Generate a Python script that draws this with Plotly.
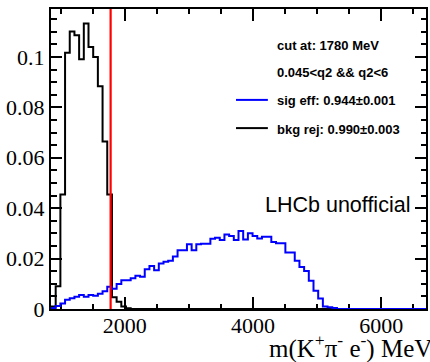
import numpy as np
import plotly.graph_objects as go

# Binning of the mass histograms (MeV)
x_range = [850, 6700]
n_bins = 80
cut_mev = 1780
y_max = 0.119

# Normalised background distribution per bin (black)
bkg_values = [
    0.0010, 0.0090, 0.0454, 0.1016, 0.1101, 0.1086, 0.0991, 0.1132,
    0.1039, 0.1000, 0.0884, 0.0664, 0.0454, 0.0047, 0.0029, 0.0010,
    0.0003,
] + [0.0] * 63

# Normalised signal distribution per bin (blue)
sig_values = [
    0.0004, 0.0012, 0.0022, 0.0037, 0.0043, 0.0049, 0.0056, 0.0049,
    0.0056, 0.0053, 0.0060, 0.0070, 0.0088, 0.0080, 0.0099, 0.0114,
    0.0114, 0.0122, 0.0132, 0.0128, 0.0158, 0.0171, 0.0154, 0.0180,
    0.0187, 0.0191, 0.0208, 0.0233, 0.0233, 0.0257, 0.0233, 0.0257,
    0.0259, 0.0259, 0.0279, 0.0283, 0.0274, 0.0296, 0.0290, 0.0274,
    0.0309, 0.0276, 0.0300, 0.0290, 0.0280, 0.0287, 0.0287, 0.0266,
    0.0261, 0.0261, 0.0224, 0.0224, 0.0191, 0.0167, 0.0151, 0.0112,
    0.0072, 0.0042, 0.0010, 0.0007, 0.0004,
] + [0.0] * 19

x_tick_vals = [2000, 4000, 6000]
x_tick_text = ["2000", "4000", "6000"]
y_tick_vals = [0, 0.02, 0.04, 0.06, 0.08, 0.1]
y_tick_text = ["0", "0.02", "0.04", "0.06", "0.08", "0.1"]

info_lines = ["cut at: 1780 MeV", "0.045<q2 && q2<6"]
legend_entries = [
    ("sig eff: 0.944\u00b10.001", "#0000ff"),
    ("bkg rej: 0.990\u00b10.003", "#000000"),
]

edges = np.linspace(x_range[0], x_range[1], n_bins + 1)


def step_xy(values):
    return edges, list(values) + [values[-1]]


fig = go.Figure()
for vals, color in [(bkg_values, "#000000"), (sig_values, "#0000ff")]:
    xs, ys = step_xy(vals)
    fig.add_trace(go.Scatter(x=xs, y=ys, mode="lines", line_shape="hv",
                             line=dict(color=color, width=2),
                             showlegend=False, hoverinfo="skip"))

# cut position
fig.add_shape(type="line", x0=cut_mev, x1=cut_mev, xref="x",
              y0=0, y1=1, yref="paper",
              line=dict(color="#ff0000", width=2.2))

serif = "Liberation Serif, Times New Roman, serif"
sans = "Liberation Sans, Arial, sans-serif"

axis_common = dict(
    showgrid=False, zeroline=False, showline=True, linecolor="black",
    linewidth=2, mirror="ticks", ticks="inside", tickcolor="black",
    tickwidth=1.5, layer="below traces",
    tickfont=dict(family=serif, size=22, color="black"),
)

fig.update_xaxes(range=x_range, tickvals=x_tick_vals, ticktext=x_tick_text,
                 ticklen=12, ticklabelstandoff=-4,
                 minor=dict(dtick=500, tick0=0, ticklen=5, ticks="inside",
                            tickcolor="black", tickwidth=1.5),
                 **axis_common)
fig.update_yaxes(range=[0, y_max], tickvals=y_tick_vals, ticktext=y_tick_text,
                 ticklen=11, ticklabelstandoff=0,
                 minor=dict(dtick=0.005, tick0=0, ticklen=5.5, ticks="inside",
                            tickcolor="black", tickwidth=1.5),
                 **axis_common)

annotations = []
text_x = 0.598
row_y = [0.880, 0.787, 0.694, 0.600]
for i, txt in enumerate(info_lines):
    annotations.append(dict(x=text_x, y=row_y[i], xref="paper", yref="paper",
                            text="<b>%s</b>" % txt, showarrow=False,
                            xanchor="left", yanchor="middle",
                            font=dict(family=sans, size=13, color="black")))
for j, (txt, color) in enumerate(legend_entries):
    yy = row_y[2 + j]
    annotations.append(dict(x=text_x, y=yy, xref="paper", yref="paper",
                            text="<b>%s</b>" % txt, showarrow=False,
                            xanchor="left", yanchor="middle",
                            font=dict(family=sans, size=13, color="black")))
    fig.add_shape(type="line", xref="paper", yref="paper",
                  x0=0.4934, x1=0.5783, y0=yy + 0.003, y1=yy + 0.003,
                  line=dict(color=color, width=2))

annotations.append(dict(x=0.962, y=0.348, xref="paper", yref="paper",
                        text="LHCb unofficial", showarrow=False,
                        xanchor="right", yanchor="middle",
                        font=dict(family=sans, size=21.5, color="black")))
annotations.append(dict(x=0.5756, y=-0.125, xref="paper", yref="paper",
                        text="m(K<sup>+</sup>\u03c0<sup>-</sup> e<sup>-</sup>) MeV",
                        showarrow=False, xanchor="left", yanchor="middle",
                        font=dict(family=serif, size=25, color="black")))

fig.update_layout(
    width=430, height=362, autosize=False,
    margin=dict(l=51, r=2, t=9, b=53),
    paper_bgcolor="white", plot_bgcolor="white",
    font=dict(family=serif, size=22, color="black"),
    annotations=annotations,
)

fig.write_html("out.html")
